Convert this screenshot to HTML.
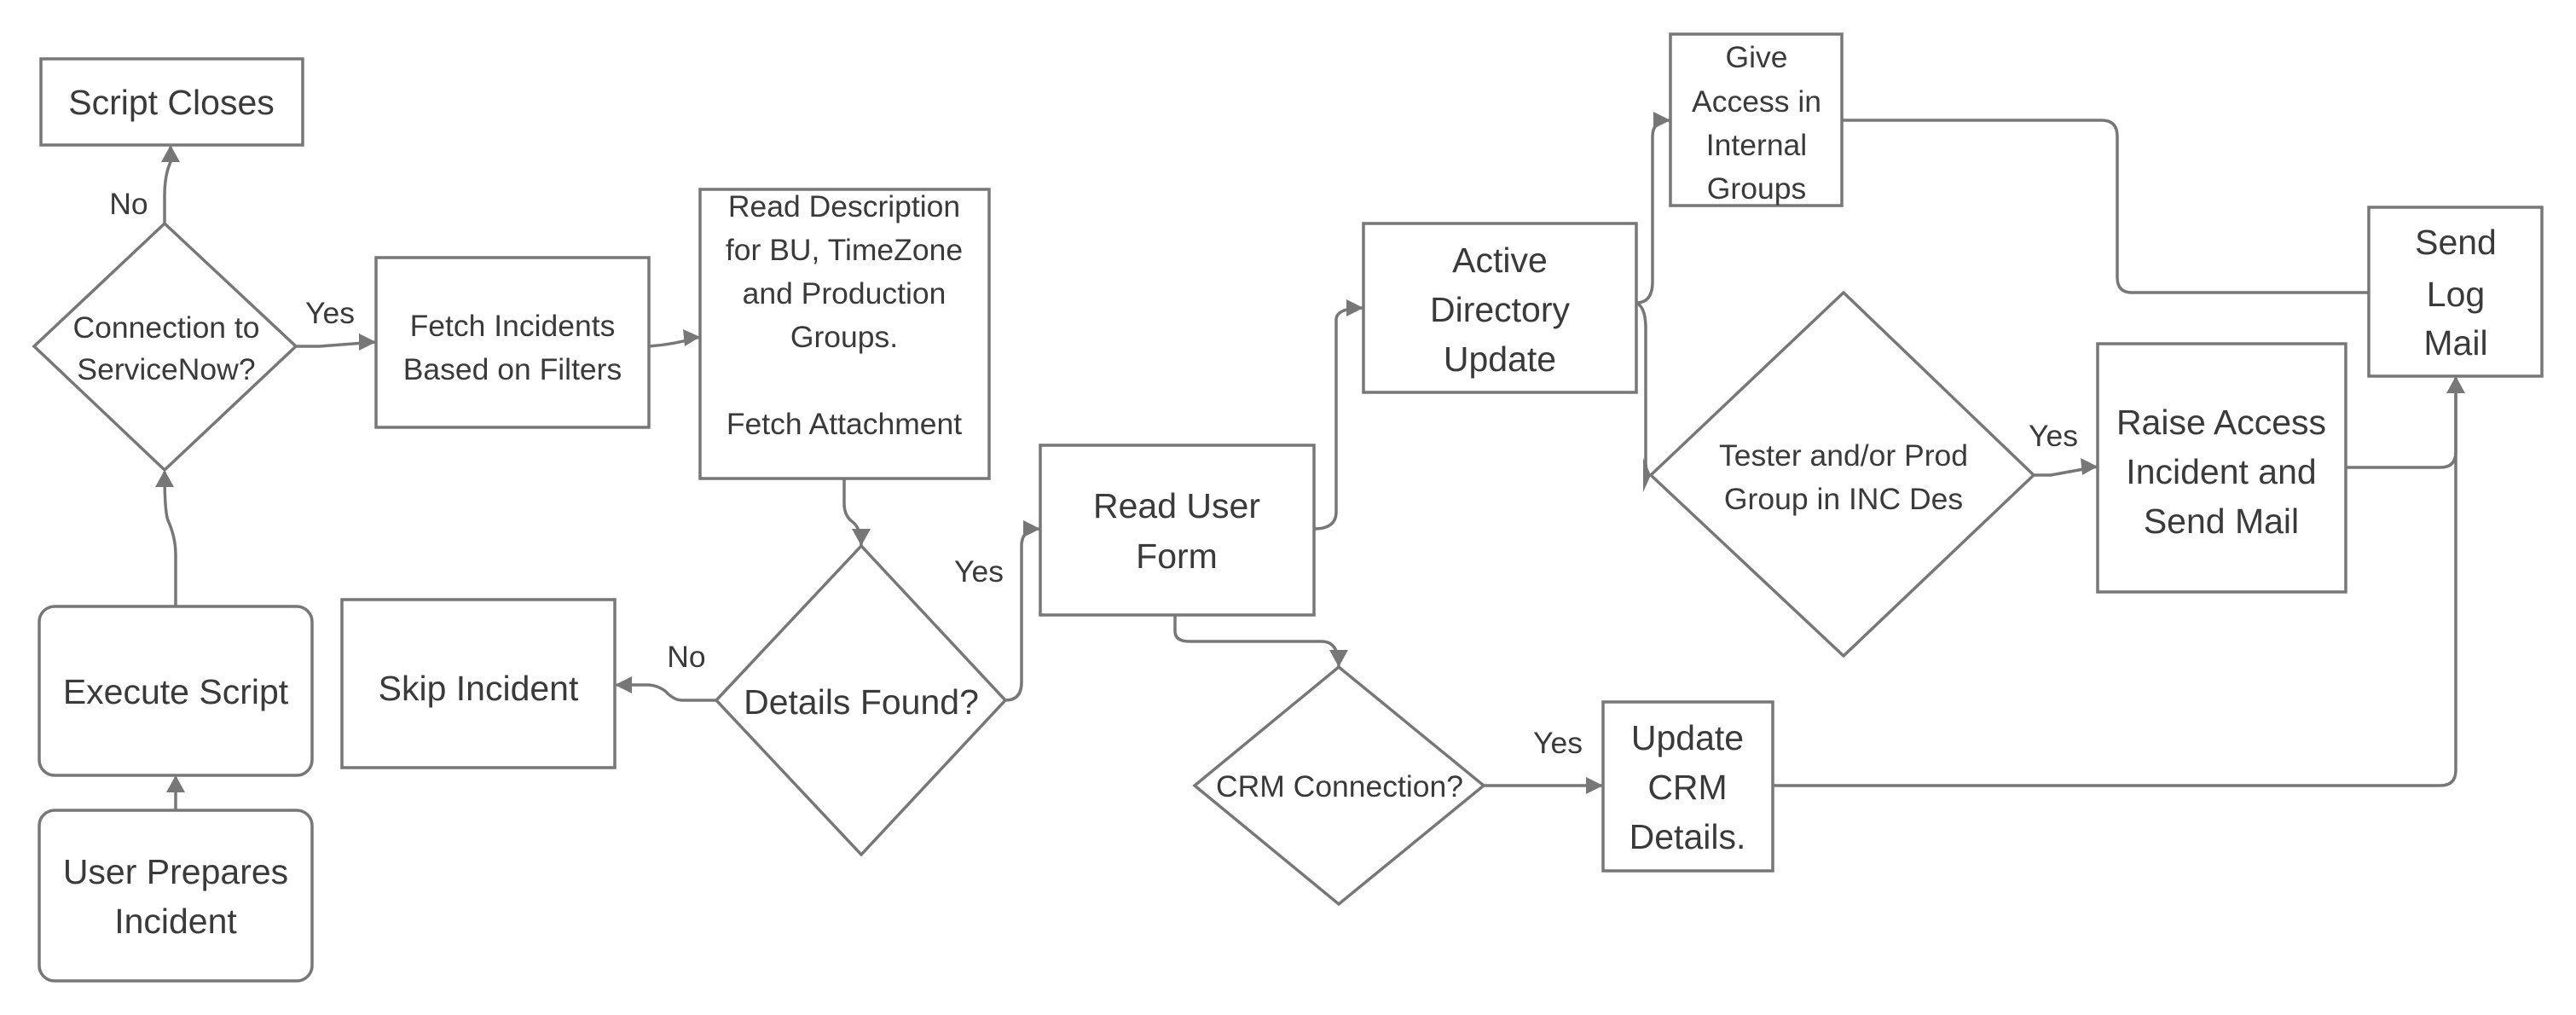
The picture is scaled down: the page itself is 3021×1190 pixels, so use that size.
<!DOCTYPE html>
<html><head><meta charset="utf-8"><style>
html,body{margin:0;padding:0;background:#fff;}
svg{display:block;}
text{font-family:"Liberation Sans",sans-serif;fill:#3a3a3a;text-anchor:middle;}
</style></head><body>
<svg width="3021" height="1190" viewBox="0 0 3021 1190" xmlns="http://www.w3.org/2000/svg">
<style>.s{fill:#fff;stroke:#777;stroke-width:3.5}.l{fill:none;stroke:#777;stroke-width:3.5;stroke-linejoin:round}</style>
<!-- connectors -->
<g class="l">
<path d="M193,262 L193,230 Q193,205 200,190 L200,172"/>
<path d="M347,406 L375,406 L441,401"/>
<path d="M761,406 Q790,404 821,395"/>
<path d="M990,561 L990,590 Q990,605 1000,612 Q1010,620 1010,640"/>
<path d="M840,821 L800,821 Q790,821 780,810 Q770,803 760,803 L723,803"/>
<path d="M1179,821 Q1198,821 1198,800 L1198,640 Q1198,620 1220,620"/>
<path d="M206,711 L206,650 Q206,630 197,610 Q193,600 193,553"/>
<path d="M206,950 L206,911"/>
<path d="M1541,620 Q1567,620 1567,600 L1567,375 Q1567,361 1599,361"/>
<path d="M1378,721 L1378,740 Q1378,752 1395,752 L1550,752 Q1570,752 1570,782"/>
<path d="M1919,355 Q1938,355 1938,330 L1938,160 Q1938,141 1959,141"/>
<path d="M1919,355 Q1930,360 1930,385 L1930,540 Q1930,557 1936,557"/>
<path d="M2385,557 L2405,557 L2460,547"/>
<path d="M2160,141 L2465,141 Q2483,141 2483,160 L2483,325 Q2483,343 2500,343 L2778,343"/>
<path d="M2751,548 L2862,548 Q2880,548 2880,530 L2880,443"/>
<path d="M1740,921 L1880,921"/>
<path d="M2079,921 L2862,921 Q2880,921 2880,903 L2880,443"/>
</g>
<!-- arrowheads -->
<g fill="#777">
<polygon points="200,170 189,190 211,190"/>
<polygon points="441,401 421,391 421,411"/>
<polygon points="821,395 801,386 803,406"/>
<polygon points="1010,640 999,620 1021,620"/>
<polygon points="721,803 741,793 741,813"/>
<polygon points="1220,620 1200,610 1200,630"/>
<polygon points="193,551 182,571 204,571"/>
<polygon points="206,909 195,929 217,929"/>
<polygon points="1599,361 1579,351 1579,371"/>
<polygon points="1570,782 1559,762 1581,762"/>
<polygon points="1959,141 1939,131 1939,151"/>
<polygon points="1936,557 1927,537 1927,577"/>
<polygon points="2460,547 2440,537 2442,557"/>
<polygon points="2880,441 2869,461 2891,461"/>
<polygon points="1880,921 1860,911 1860,931"/>
</g>
<!-- shapes -->
<rect class="s" x="48" y="69" width="307" height="101"/>
<polygon class="s" points="193,262 347,406 193,551 40,406"/>
<rect class="s" x="441" y="302" width="320" height="199"/>
<rect class="s" x="821" y="222" width="339" height="339"/>
<polygon class="s" points="1010,640 1179,821 1010,1002 840,821"/>
<rect class="s" x="401" y="703" width="320" height="197"/>
<rect class="s" x="46" y="711" width="320" height="198" rx="18"/>
<rect class="s" x="46" y="950" width="320" height="200" rx="18"/>
<rect class="s" x="1220" y="522" width="321" height="199"/>
<rect class="s" x="1599" y="262" width="320" height="198"/>
<rect class="s" x="1959" y="40" width="201" height="201"/>
<polygon class="s" points="2162,343 2385,557 2162,769 1936,557"/>
<rect class="s" x="2460" y="403" width="291" height="291"/>
<rect class="s" x="2778" y="243" width="203" height="198"/>
<polygon class="s" points="1570,782 1740,921 1570,1060 1401,921"/>
<rect class="s" x="1880" y="823" width="199" height="198"/>
<!-- text -->
<g font-size="41">
<text x="201" y="134">Script Closes</text>
<text x="206" y="825">Execute Script</text>
<text x="206" y="1036">User Prepares</text>
<text x="206" y="1094">Incident</text>
<text x="561" y="821">Skip Incident</text>
<text x="1010" y="837">Details Found?</text>
<text x="1380" y="607">Read User</text>
<text x="1380" y="666">Form</text>
<text x="1759" y="319">Active</text>
<text x="1759" y="377">Directory</text>
<text x="1759" y="435">Update</text>
<text x="2605" y="509">Raise Access</text>
<text x="2605" y="567">Incident and</text>
<text x="2605" y="625">Send Mail</text>
<text x="2880" y="298">Send</text>
<text x="2880" y="359">Log</text>
<text x="2880" y="416">Mail</text>
<text x="1979" y="879">Update</text>
<text x="1979" y="937">CRM</text>
<text x="1979" y="995">Details.</text>
</g>
<g font-size="35.5">
<text x="195" y="396">Connection to</text>
<text x="195" y="445">ServiceNow?</text>
<text x="601" y="394">Fetch Incidents</text>
<text x="601" y="445">Based on Filters</text>
<text x="990" y="254">Read Description</text>
<text x="990" y="305">for BU, TimeZone</text>
<text x="990" y="356">and Production</text>
<text x="990" y="407">Groups.</text>
<text x="990" y="509">Fetch Attachment</text>
<text x="2060" y="79">Give</text>
<text x="2060" y="131">Access in</text>
<text x="2060" y="182">Internal</text>
<text x="2060" y="233">Groups</text>
<text x="2162" y="546">Tester and/or Prod</text>
<text x="2162" y="597">Group in INC Des</text>
<text x="1571" y="934">CRM Connection?</text>
<text x="151" y="251">No</text>
<text x="387" y="379">Yes</text>
<text x="805" y="782">No</text>
<text x="1148" y="682">Yes</text>
<text x="2408" y="523">Yes</text>
<text x="1827" y="883">Yes</text>
</g>
</svg>
</body></html>
